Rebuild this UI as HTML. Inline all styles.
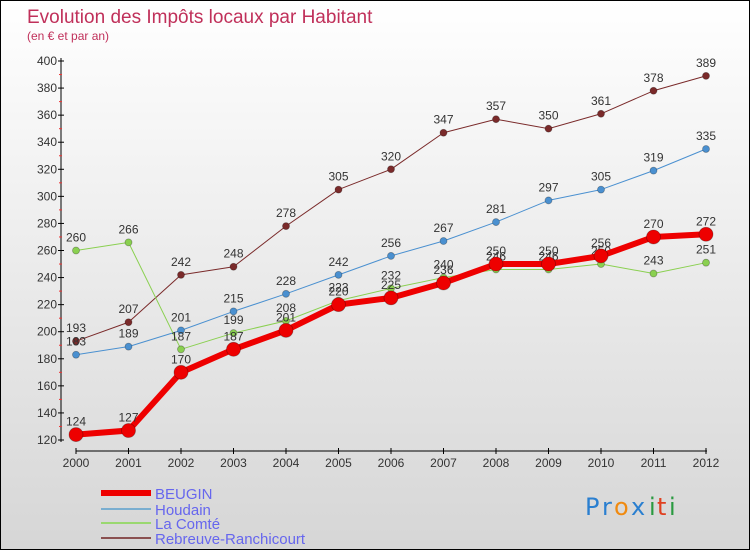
<!DOCTYPE html>
<html><head><meta charset="utf-8"><style>
body{margin:0}
#c{position:relative;width:748px;height:548px;border:1px solid #000;background:linear-gradient(#fff,#d6d6d6);font-family:"Liberation Sans",sans-serif;overflow:hidden}
</style></head><body>
<div id="c">
<svg id="s" width="748" height="548" xmlns="http://www.w3.org/2000/svg">
<text x="26" y="22" font-size="19" fill="#c0305a">Evolution des Impôts locaux par Habitant</text>
<text x="26" y="39" font-size="12" fill="#c0305a">(en € et par an)</text>
<g id="axes"></g><g id="series"></g>
<g font-size="15" fill="#6666ee">
<line x1="100" y1="492" x2="150" y2="492" stroke="#e00" stroke-width="6"/>
<text x="154" y="498">BEUGIN</text>
<line x1="100" y1="508" x2="150" y2="508" stroke="#7aaed0" stroke-width="2"/>
<text x="154" y="514">Houdain</text>
<line x1="100" y1="522" x2="150" y2="522" stroke="#9ad870" stroke-width="2"/>
<text x="154" y="528">La Comté</text>
<line x1="100" y1="537" x2="150" y2="537" stroke="#8a5050" stroke-width="2"/>
<text x="154" y="543">Rebreuve-Ranchicourt</text>
</g>
<g font-size="24" font-family="DejaVu Sans,sans-serif">
<text x="584" y="514" fill="#2a7fd0">P</text><text x="601" y="514" fill="#2a7fd0">r</text><text x="613" y="514" fill="#f08a10">o</text><text x="630" y="514" fill="#2a7fd0">x</text><text x="648" y="514" fill="#2a9a40">i</text><text x="656" y="514" fill="#e04020">t</text><text x="668" y="514" fill="#2a9a40">i</text>
</g>
</svg></div>
<script>
const years=[2000,2001,2002,2003,2004,2005,2006,2007,2008,2009,2010,2011,2012];
const beugin=[124,127,170,187,201,220,225,236,250,250,256,270,272];
const houdain=[183,189,201,215,228,242,256,267,281,297,305,319,335];
const laComte=[260,266,187,199,208,223,232,240,246,246,250,243,251];
const rebreuve=[193,207,242,248,278,305,320,347,357,350,361,378,389];
const yTicks=[120,140,160,180,200,220,240,260,280,300,320,340,360,380,400];
const NS="http://www.w3.org/2000/svg";
const X=i=>75+i*52.5, Y=v=>439-(v-120)*(379/280);
function mk(t,a,p){const e=document.createElementNS(NS,t);for(const k in a)e.setAttribute(k,a[k]);p.appendChild(e);return e;}
const ax=document.getElementById('axes');
let e=mk('line',{x1:60,y1:57,x2:60,y2:441,stroke:'#000'},ax);


e=mk('line',{x1:75,y1:450,x2:706,y2:450,stroke:'#000'},ax);


yTicks.forEach(v=>{mk('line',{x1:57,y1:Y(v),x2:63,y2:Y(v),stroke:'#000'},ax);
 if(v<400)mk('line',{x1:58,y1:Y(v+10),x2:61,y2:Y(v+10),stroke:'#e33'},ax);
 const t=mk('text',{x:56,y:Y(v)+4,'text-anchor':'end','font-size':12,fill:'#333'},ax);t.textContent=v;
 
 });
years.forEach((y,i)=>{mk('line',{x1:X(i),y1:447,x2:X(i),y2:453,stroke:'#000'},ax);
 const t=mk('text',{x:X(i),y:466,'text-anchor':'middle','font-size':12,fill:'#333'},ax);t.textContent=y;
 
 });
const sg=document.getElementById('series');
function draw(vals,color,w,r,name){
 const g=mk('g',{},sg);
 
 
 mk('polyline',{points:vals.map((v,i)=>X(i)+','+Y(v)).join(' '),fill:'none',stroke:color,'stroke-width':w,'stroke-linejoin':'round'},g);
 vals.forEach((v,i)=>{const c=mk('circle',{cx:X(i),cy:Y(v),r:r,fill:color,stroke:'rgba(0,0,0,0.3)','stroke-width':0.8},g);
  
  
  const t=mk('text',{x:X(i),y:Y(v)-9,'text-anchor':'middle','font-size':12,fill:'#333'},g);t.textContent=v;
  
  });
}
draw(rebreuve,'#7a2a2a',1,3.5,'rebreuve');
draw(houdain,'#4a90d0',1,3.5,'houdain');
draw(laComte,'#8ad050',1,3.5,'la-comte');
draw(beugin,'#ee0000',6,7,'beugin');
</script>
</body></html>
